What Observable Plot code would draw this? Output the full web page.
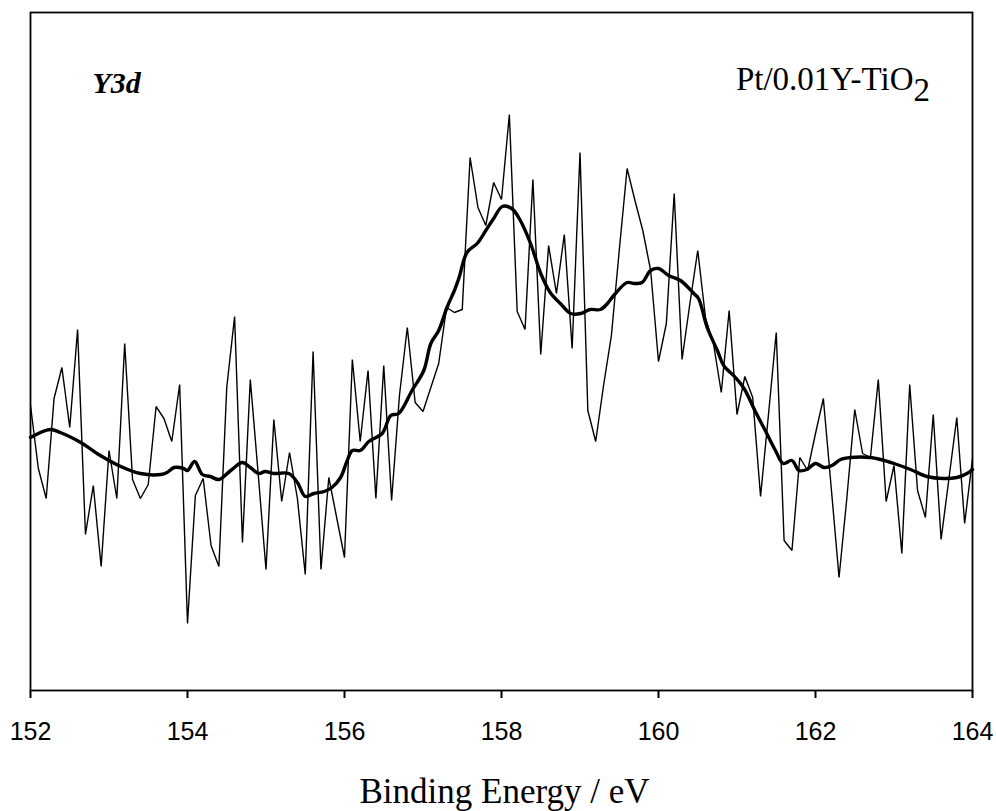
<!DOCTYPE html>
<html>
<head>
<meta charset="utf-8">
<script src="https://cdn.jsdelivr.net/npm/d3@7"></script>
<script src="https://cdn.jsdelivr.net/npm/@observablehq/plot@0.6"></script>
<style>
  html, body { margin: 0; padding: 0; background: #fff; }
  #chart { width: 996px; height: 811px; }
</style>
</head>
<body>
<div id="chart"></div>
<script>
// Binding energy grid of the raw scan (eV)
const rawEnergy = [
  152.0,152.1,152.2,152.3,152.4,152.5,152.6,152.7,152.8,152.9,
  153.0,153.1,153.2,153.3,153.4,153.5,153.6,153.7,153.8,153.9,
  154.0,154.1,154.2,154.3,154.4,154.5,154.6,154.7,154.8,154.9,
  155.0,155.1,155.2,155.3,155.4,155.5,155.6,155.7,155.8,155.9,
  156.0,156.1,156.2,156.3,156.4,156.5,156.6,156.7,156.8,156.9,
  157.0,157.1,157.2,157.3,157.4,157.5,157.6,157.7,157.8,157.9,
  158.0,158.1,158.2,158.3,158.4,158.5,158.6,158.7,158.8,158.9,
  159.0,159.1,159.2,159.3,159.4,159.5,159.6,159.7,159.8,159.9,
  160.0,160.1,160.2,160.3,160.4,160.5,160.6,160.7,160.8,160.9,
  161.0,161.1,161.2,161.3,161.4,161.5,161.6,161.7,161.8,161.9,
  162.0,162.1,162.2,162.3,162.4,162.5,162.6,162.7,162.8,162.9,
  163.0,163.1,163.2,163.3,163.4,163.5,163.6,163.7,163.8,163.9,
  164.0
];
// Raw intensity (arbitrary units)
const rawIntensity = [
  285,222,192,292,323,263,361,156,205,124,
  240,192,347,211,192,206,284,272,249,306,
  67,195,212,145,124,303,374,148,311,217,
  121,271,189,238,192,116,339,121,213,173,
  133,331,249,320,192,325,190,295,363,288,
  279,303,327,383,378,381,533,483,465,508,
  491,576,379,361,511,336,445,397,456,342,
  538,280,249,305,355,440,522,490,460,420,
  329,367,497,331,387,440,372,347,298,380,
  276,314,293,194,275,358,150,140,233,220,
  257,292,203,113,193,281,237,233,311,189,
  225,137,306,200,173,276,151,212,273,167,
  232
];
// Smoothed curve
const smoothEnergy = [
  152.00,152.25,152.38,152.64,152.89,153.15,153.40,153.66,153.74,153.83,
  153.95,154.00,154.09,154.19,154.29,154.40,154.55,154.70,154.80,154.91,
  154.99,155.10,155.29,155.40,155.50,155.61,155.74,155.84,155.95,156.03,
  156.10,156.20,156.31,156.48,156.59,156.69,156.86,157.01,157.10,157.20,
  157.31,157.40,157.46,157.56,157.69,157.80,157.90,158.01,158.13,158.24,
  158.37,158.50,158.62,158.75,158.88,159.01,159.13,159.26,159.35,159.43,
  159.60,159.69,159.79,159.90,160.00,160.13,160.28,160.45,160.51,160.62,
  160.75,160.83,160.98,161.09,161.24,161.36,161.49,161.59,161.70,161.79,
  161.89,162.00,162.11,162.21,162.32,162.45,162.70,162.83,163.00,163.21,
  163.42,163.63,163.80,163.93,164.00
];
const smoothIntensity = [
  253,261,258,248,235,224,217,216,218,223,
  222,220,229,216,214,211,220,228,223,217,
  219,217,217,208,194,197,199,203,213,229,
  240,240,249,257,275,277,300,320,347,360,
  384,400,413,438,447,460,472,484,482,470,
  447,417,398,387,377,377,381,381,387,395,
  408,407,408,420,422,415,410,397,392,363,
  340,325,313,302,278,260,240,227,230,220,
  221,227,223,225,231,233,233,231,227,221,
  214,212,213,217,221
];
const xTicks = [152, 154, 156, 158, 160, 162, 164];
const xDomain = [152, 164];
const yDomain = [0, 678];

const rawData = rawEnergy.map((e, i) => ({energy: e, intensity: rawIntensity[i]}));
const smoothData = smoothEnergy.map((e, i) => ({energy: e, intensity: smoothIntensity[i]}));

const serif = "'Liberation Serif', 'Times New Roman', serif";
const sans = "'Liberation Sans', Arial, sans-serif";

const chart = Plot.plot({
  width: 996,
  height: 811,
  marginLeft: 30,
  marginRight: 24,
  marginTop: 12,
  marginBottom: 121,
  style: {background: "#fff", color: "#000", fontFamily: sans, overflow: "visible"},
  x: {domain: xDomain},
  y: {domain: yDomain, axis: null},
  marks: [
    Plot.frame({stroke: "#000", strokeWidth: 1.8}),
    Plot.axisX({
      ticks: xTicks,
      tickSize: 8,
      tickPadding: 24,
      strokeWidth: 2,
      fontSize: 25,
      fontFamily: sans,
      label: null,
      tickFormat: d => String(d)
    }),
    Plot.line(rawData, {x: "energy", y: "intensity", stroke: "#000", strokeWidth: 1.4, strokeLinejoin: "miter"}),
    Plot.line(smoothData, {x: "energy", y: "intensity", stroke: "#000", strokeWidth: 3.4, curve: "catmull-rom"}),
    Plot.text(["Y3d"], {
      text: d => d, frameAnchor: "top-left", dx: 62, dy: 80, lineAnchor: "bottom",
      textAnchor: "start", fontFamily: serif, fontSize: 30, fontWeight: "bold", fontStyle: "italic", fill: "#000"
    }),
    Plot.text(["Pt/0.01Y-TiO"], {
      text: d => d, frameAnchor: "top-right", dx: -59, dy: 77, lineAnchor: "bottom",
      textAnchor: "end", fontFamily: serif, fontSize: 33, fill: "#000"
    }),
    Plot.text(["2"], {
      text: d => d, frameAnchor: "top-right", dx: -59, dy: 88, lineAnchor: "bottom",
      textAnchor: "start", fontFamily: serif, fontSize: 33, fill: "#000"
    }),
    Plot.text(["Binding Energy / eV"], {
      text: d => d, frameAnchor: "bottom", dx: 3, dy: 112, lineAnchor: "bottom",
      textAnchor: "middle", fontFamily: serif, fontSize: 35, fill: "#000"
    })
  ]
});
document.getElementById("chart").appendChild(chart);
</script>
</body>
</html>
